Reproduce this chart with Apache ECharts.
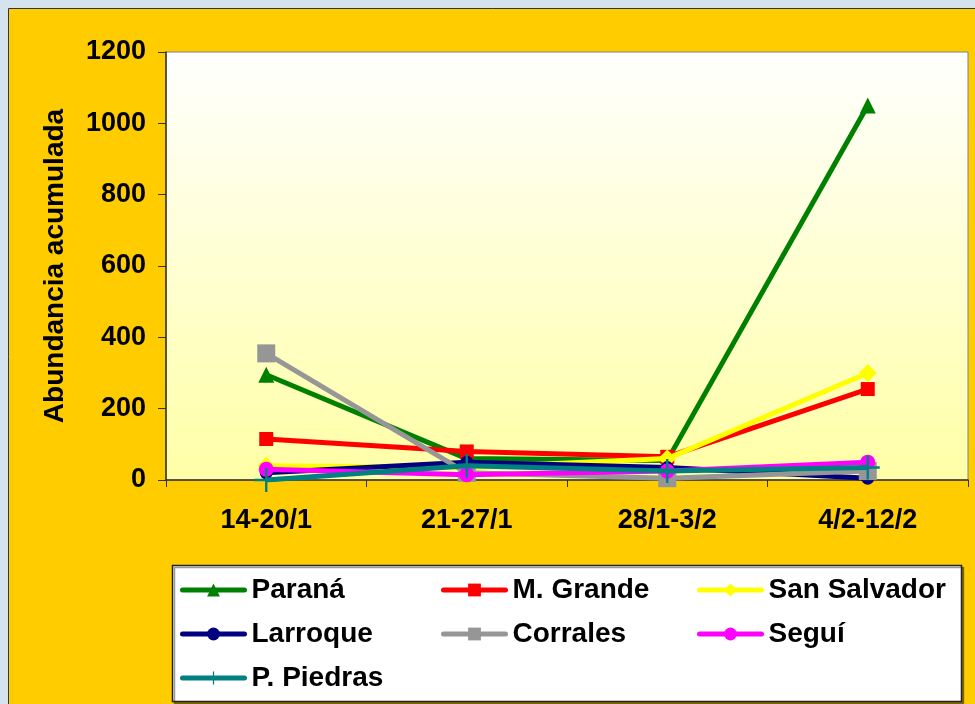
<!DOCTYPE html>
<html><head><meta charset="utf-8">
<script src="https://cdn.jsdelivr.net/npm/echarts@6/dist/echarts.min.js"></script>
<style>html,body{margin:0;padding:0;background:#D5E3EE;}#c{width:975px;height:704px;}</style>
</head><body><div id="c"></div>
<script>
const categories = ['14-20/1', '21-27/1', '28/1-3/2', '4/2-12/2'];
const seriesNames = ['Paraná', 'M. Grande', 'San Salvador', 'Larroque', 'Corrales', 'Seguí', 'P. Piedras'];
const parana = [295, 60, 55, 1050];
const mGrande = [115, 80, 65, 255];
const sanSalvador = [40, 35, 60, 300];
const larroque = [20, 50, 35, 5];
const corrales = [355, 20, 5, 25];
const segui = [30, 15, 25, 50];
const pPiedras = [0, 40, 25, 35];
const yTicks = {min: 0, max: 1200, interval: 200};

const values = [parana, mGrande, sanSalvador, larroque, corrales, segui, pPiedras];
const colors = ['#008000', '#FF0000', '#FFFF00', '#000080', '#969696', '#FF00FF', '#008080'];
const plusPath = 'path://M9,0H11V9H20V11H11V20H9V11H0V9H9Z';
const symbols = ['triangle', 'rect', 'diamond', 'circle', 'rect', 'circle', plusPath];
const sizes = [16, 14, 18, 13, 18, 15, 24];

const font = 'Liberation Sans, Arial, sans-serif';
const chart = echarts.init(document.getElementById('c'), null, {renderer: 'canvas'});

const legendPos = [
  [180, 576], [441, 576], [697, 576],
  [180, 620], [441, 620], [697, 620],
  [180, 664]
];

const option = {
  animation: false,
  backgroundColor: '#D5E3EE',
  color: colors,
  graphic: [
    {type: 'rect', z: -10, shape: {x: 8.5, y: 8.5, width: 1000, height: 1000},
     style: {fill: '#FFCC00', stroke: '#333333', lineWidth: 1}},
    {type: 'rect', z: -5, shape: {x: 172.5, y: 565.5, width: 789, height: 136},
     style: {fill: '#FFFFFF', stroke: '#222222', lineWidth: 1.5, shadowColor: 'rgba(0,0,0,0.4)', shadowOffsetX: 2, shadowOffsetY: 2}}
  ],
  grid: {
    left: 166, top: 52, right: 7, bottom: 224,
    show: true,
    borderColor: '#808080', borderWidth: 1,
    backgroundColor: {type: 'linear', x: 0, y: 0, x2: 0, y2: 1,
      colorStops: [{offset: 0, color: '#FFFFFF'}, {offset: 1, color: '#FFFFA6'}]}
  },
  legend: seriesNames.map((n, i) => ({
    data: [n], left: legendPos[i][0], top: legendPos[i][1],
    itemWidth: 62, itemHeight: 16, itemGap: 0, padding: 0,
    lineStyle: {width: 5, cap: 'round'},
    textStyle: {fontFamily: font, fontWeight: 'bold', fontSize: 28, color: '#000', padding: [0, 0, 0, 2]}
  })),
  xAxis: {
    type: 'category', data: categories, boundaryGap: true,
    axisLine: {show: true, lineStyle: {color: '#333333', width: 1.5}},
    axisTick: {show: true, length: 7, lineStyle: {color: '#333333'}},
    axisLabel: {fontFamily: font, fontWeight: 'bold', fontSize: 27, color: '#000', margin: 27}
  },
  yAxis: {
    type: 'value', min: yTicks.min, max: yTicks.max, interval: yTicks.interval,
    name: 'Abundancia acumulada', nameLocation: 'middle', nameGap: 97,
    nameTextStyle: {fontFamily: font, fontWeight: 'bold', fontSize: 28, color: '#000'},
    splitLine: {show: false},
    axisLine: {show: true, lineStyle: {color: '#333333', width: 1.5}},
    axisTick: {show: true, length: 8, lineStyle: {color: '#333333'}},
    axisLabel: {fontFamily: font, fontWeight: 'bold', fontSize: 27, color: '#000', margin: 20,
      formatter: v => String(v)}
  },
  series: seriesNames.map((n, i) => ({
    name: n, type: 'line', data: values[i],
    symbol: symbols[i], symbolSize: sizes[i], showAllSymbol: true,
    lineStyle: {width: 5, color: colors[i]},
    itemStyle: {color: colors[i]},
    z: 2 + i
  }))
};
chart.setOption(option);
</script></body></html>
